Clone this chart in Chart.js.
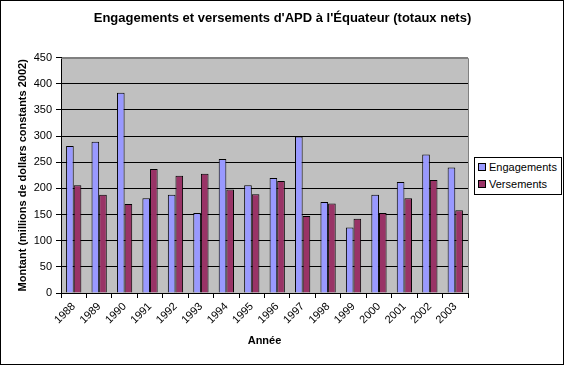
<!DOCTYPE html>
<html>
<head>
<meta charset="utf-8">
<script src="https://cdn.jsdelivr.net/npm/chart.js@4/dist/chart.umd.min.js"></script>
<style>
  body { margin: 0; background: #fff; }
  #wrap { position: relative; width: 565px; height: 365px; }
  #legend {
    position: absolute; left: 474px; top: 157px; width: 86px; height: 36px;
    border: 1px solid #000; background: #fff;
    font: 11px "Liberation Sans", Arial, sans-serif; color: #000;
  }
  #legend div { position: absolute; left: 3px; height: 13px; line-height: 13px; }
  #legend span.box {
    display: inline-block; width: 6px; height: 6px; border: 1px solid #000;
    margin-right: 3px; vertical-align: 0px;
  }
</style>
</head>
<body>
<div id="wrap">
  <canvas id="chart" width="565" height="365"></canvas>
  <div id="legend"></div>
</div>
<script>
// Data
const years = ["1988", "1989", "1990", "1991", "1992", "1993", "1994", "1995",
  "1996", "1997", "1998", "1999", "2000", "2001", "2002", "2003"];
const engagements = [281, 289, 383, 181, 188, 153, 256, 206, 220, 299, 174, 125, 188, 212, 265, 240];
const versements = [206, 188, 170, 237, 224, 228, 198, 189, 214, 147, 171, 142, 153, 181, 216, 158];
const yTicks = [0, 50, 100, 150, 200, 250, 300, 350, 400, 450];

const FONT = "'Liberation Sans', Arial, sans-serif";
const BLUE = "#9999FF";
const MAROON = "#993366";

// Gray plot area plus outer frame
const plotBg = {
  id: "plotBg",
  beforeDraw(chart) {
    const { ctx, chartArea: a } = chart;
    ctx.save();
    ctx.fillStyle = "#C0C0C0";
    ctx.fillRect(a.left, a.top, a.right - a.left, a.bottom - a.top);
    ctx.restore();
  },
  afterDraw(chart) {
    const { ctx, chartArea: a } = chart;
    ctx.save();
    ctx.strokeStyle = "#808080";
    ctx.lineWidth = 1;
    ctx.beginPath();
    ctx.moveTo(a.left, Math.round(a.top) + 0.5);
    ctx.lineTo(Math.round(a.right) + 0.5, Math.round(a.top) + 0.5);
    ctx.lineTo(Math.round(a.right) + 0.5, a.bottom);
    ctx.stroke();
    ctx.strokeStyle = "#000";
    ctx.strokeRect(0.5, 0.5, 563, 364);
    ctx.restore();
  }
};

const ctx = document.getElementById("chart").getContext("2d");
new Chart(ctx, {
  type: "bar",
  data: {
    labels: years,
    datasets: [
      {
        label: "Engagements",
        data: engagements,
        backgroundColor: BLUE,
        borderColor: "#000",
        borderWidth: 1,
      },
      {
        label: "Versements",
        data: versements,
        backgroundColor: MAROON,
        borderColor: "#000",
        borderWidth: 1,
      },
    ],
  },
  options: {
    responsive: false,
    animation: false,
    layout: { padding: 0 },
    datasets: { bar: { categoryPercentage: 0.6, barPercentage: 1 } },
    plugins: {
      legend: { display: false },
      tooltip: { enabled: false },
      title: {
        display: true,
        text: "Engagements et versements d'APD à l'Équateur (totaux nets)",
        color: "#000",
        font: { family: FONT, size: 13, weight: "bold" },
        padding: { top: 11, bottom: 31 },
      },
    },
    scales: {
      x: {
        afterFit: (s) => { s.height = 72; },
        grid: {
          offset: true,
          drawOnChartArea: false,
          color: "#000",
          tickLength: 5,
        },
        border: { color: "#000" },
        ticks: {
          color: "#000",
          font: { family: FONT, size: 11 },
          minRotation: 45,
          maxRotation: 45,
          padding: 2,
        },
        title: {
          display: true,
          text: "Année",
          color: "#000",
          font: { family: FONT, size: 11, weight: "bold" },
          padding: { top: 0, bottom: 17 },
        },
      },
      y: {
        min: 0,
        max: 450,
        afterFit: (s) => { s.width = 61; },
        afterBuildTicks: (s) => { s.ticks = yTicks.map((v) => ({ value: v })); },
        grid: {
          color: (c) => (c.tick && c.tick.value === 450 ? "#808080" : "#000"),
          tickColor: "#000",
          tickLength: 5,
        },
        border: { color: "#000" },
        ticks: {
          color: "#000",
          font: { family: FONT, size: 11 },
          padding: 4,
        },
        title: {
          display: true,
          text: "Montant (millions de dollars constants 2002)",
          color: "#000",
          font: { family: FONT, size: 11, weight: "bold" },
          padding: { top: 16, bottom: 0 },
        },
      },
      // empty axis that only reserves the room of the legend on the right
      spacer: {
        position: "right",
        min: 0,
        max: 450,
        afterFit: (s) => { s.width = 97; },
        grid: { display: false },
        border: { display: false },
        ticks: { display: false },
      },
    },
  },
  plugins: [plotBg],
});

// Legend box on the right, as in the original
const legendEl = document.getElementById("legend");
[["Engagements", BLUE, 3], ["Versements", MAROON, 20]].forEach(([name, color, top]) => {
  const row = document.createElement("div");
  row.style.top = top + "px";
  row.innerHTML = '<span class="box" style="background:' + color + '"></span>' + name;
  legendEl.appendChild(row);
});
</script>
</body>
</html>
